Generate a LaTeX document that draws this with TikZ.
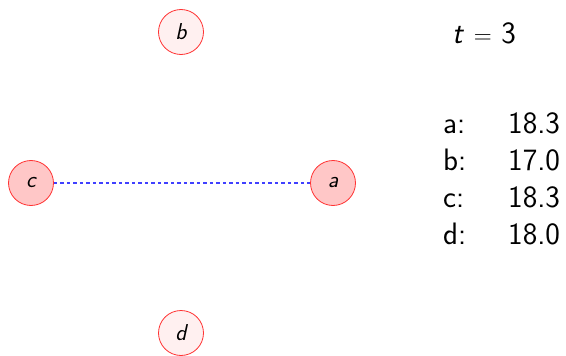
\documentclass[tikz,border=0pt]{standalone}
\begin{document}
\begin{tikzpicture}[x=1pt,y=-1pt,
  vtx/.style={circle,draw=red!80,line width=0.8pt,minimum size=45pt,inner sep=0pt,font=\fontsize{23}{26}\selectfont\sffamily\itshape},
  hot/.style={vtx,fill=red!22},
  cool/.style={vtx,fill=red!6},
  lbl/.style={anchor=base west,inner sep=0pt,font=\fontsize{31}{34}\selectfont\sffamily},
  edge/.style={blue!75!white,line width=2pt,dash pattern=on 3.5pt off 3pt}]
\useasboundingbox (0,0) rectangle (566,356);
\node[cool] (b) at (181,32) {b};
\node[hot] (c) at (31,183) {c};
\node[hot] (a) at (333,183) {a};
\node[cool] (d) at (181,333) {d};
\draw[edge] (c) -- (a);
\node[anchor=base,inner sep=0pt,font=\fontsize{31}{34}\selectfont\sffamily] (t) at (484,43) {\itshape t\/\upshape\ $=$ 3};
\node[lbl] (la) at (443,133) {a:};
\node[lbl] (va) at (508,133) {18.3};
\node[lbl] (lb) at (443,170) {b:};
\node[lbl] (vb) at (508,170) {17.0};
\node[lbl] (lc) at (443,207) {c:};
\node[lbl] (vc) at (508,207) {18.3};
\node[lbl] (ld) at (443,244) {d:};
\node[lbl] (vd) at (508,244) {18.0};
\end{tikzpicture}
\end{document}
